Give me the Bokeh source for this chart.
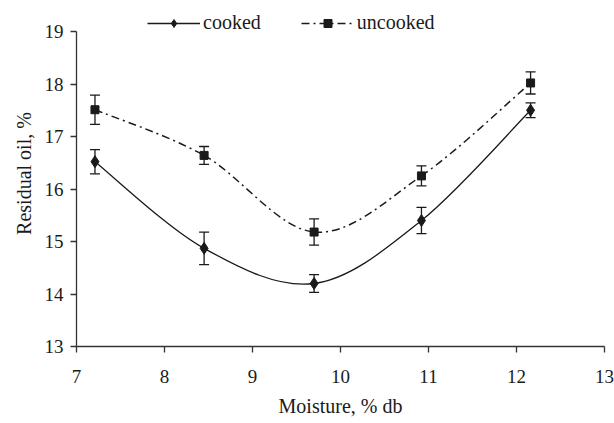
import numpy as np
from bokeh.plotting import figure
from bokeh.models import (ColumnDataSource, Whisker, TeeHead, Range1d, Legend,
                          LegendItem, FixedTicker)
from bokeh.embed import file_html
from bokeh.resources import INLINE

# ---- data ----
moisture = [7.21, 8.45, 9.70, 10.92, 12.16]
cooked = [16.52, 14.87, 14.20, 15.40, 17.50]
cooked_err = [0.23, 0.31, 0.17, 0.25, 0.14]
uncooked = [17.51, 16.64, 15.18, 16.25, 18.02]
uncooked_err = [0.28, 0.17, 0.25, 0.19, 0.21]
x_ticks = [7, 8, 9, 10, 11, 12, 13]
y_ticks = [13, 14, 15, 16, 17, 18, 19]

FONT = "Times New Roman, Liberation Serif, Tinos, DejaVu Serif, serif"
INK = "#1a1a1a"

W, H = 614, 423
LEFT, RIGHT, BOTTOM = 76, 10, 77
TOP_GAP = 31  # pixels above the y=19 tick, used by the legend


def smooth(xs, ys):
    """Bezier control points for a Catmull-Rom style smoothed line."""
    xs = np.asarray(xs, float)
    ys = np.asarray(ys, float)
    n = len(xs)
    out = dict(x0=[], y0=[], x1=[], y1=[], cx0=[], cy0=[], cx1=[], cy1=[])
    for i in range(n - 1):
        a = i - 1 if i > 0 else i
        d = i + 2 if i + 2 < n else i + 1
        out["x0"].append(xs[i]); out["y0"].append(ys[i])
        out["x1"].append(xs[i + 1]); out["y1"].append(ys[i + 1])
        out["cx0"].append(xs[i] + (xs[i + 1] - xs[a]) / 6)
        out["cy0"].append(ys[i] + (ys[i + 1] - ys[a]) / 6)
        out["cx1"].append(xs[i + 1] - (xs[d] - xs[i]) / 6)
        out["cy1"].append(ys[i + 1] - (ys[d] - ys[i]) / 6)
    return ColumnDataSource(out)


frame_h = H - BOTTOM
axis_h = frame_h - TOP_GAP
y_lo, y_hi = y_ticks[0], y_ticks[-1]
y_top = y_hi + TOP_GAP * (y_hi - y_lo) / axis_h

p = figure(width=W, height=H, output_backend="svg", toolbar_location=None,
           x_range=Range1d(x_ticks[0], x_ticks[-1]), y_range=Range1d(y_lo, y_top),
           min_border_left=LEFT, min_border_right=RIGHT,
           min_border_top=0, min_border_bottom=BOTTOM)
p.outline_line_color = None
p.grid.visible = False
p.background_fill_color = "white"
p.border_fill_color = "white"

for ax in (p.xaxis[0], p.yaxis[0]):
    ax.axis_line_color = "#333333"
    ax.axis_line_width = 1.3
    ax.major_tick_line_color = "#333333"
    ax.major_tick_line_width = 1.3
    ax.major_tick_out = 6
    ax.major_tick_in = 0
    ax.minor_tick_line_color = None
    ax.major_label_text_font = FONT
    ax.major_label_text_font_size = "19px"
    ax.major_label_text_color = INK
    ax.axis_label_text_font = FONT
    ax.axis_label_text_font_size = "20px"
    ax.axis_label_text_font_style = "normal"
    ax.axis_label_text_color = INK

p.xaxis.ticker = FixedTicker(ticks=x_ticks)
p.yaxis.ticker = FixedTicker(ticks=y_ticks)
p.yaxis.bounds = (y_lo, y_hi)
p.xaxis.axis_label = "Moisture, % db"
p.yaxis.axis_label = "Residual oil, %"
p.xaxis.major_label_standoff = 17
p.xaxis.axis_label_standoff = 9
p.yaxis.major_label_standoff = 7
p.yaxis.axis_label_standoff = 7

# smoothed lines
src_c = smooth(moisture, cooked)
src_u = smooth(moisture, uncooked)
bc = p.bezier(x0="x0", y0="y0", x1="x1", y1="y1", cx0="cx0", cy0="cy0",
              cx1="cx1", cy1="cy1", source=src_c, line_color=INK, line_width=1.3)
bu = p.bezier(x0="x0", y0="y0", x1="x1", y1="y1", cx0="cx0", cy0="cy0",
              cx1="cx1", cy1="cy1", source=src_u, line_color=INK, line_width=1.5,
              line_dash="8 4 2 4")

# error bars
pts = ColumnDataSource(dict(
    x=moisture, c=cooked, u=uncooked,
    c_lo=[v - e for v, e in zip(cooked, cooked_err)],
    c_hi=[v + e for v, e in zip(cooked, cooked_err)],
    u_lo=[v - e for v, e in zip(uncooked, uncooked_err)],
    u_hi=[v + e for v, e in zip(uncooked, uncooked_err)],
))
for lo, hi in (("c_lo", "c_hi"), ("u_lo", "u_hi")):
    w = Whisker(base="x", lower=lo, upper=hi, source=pts,
                line_color=INK, line_width=1.3,
                lower_head=TeeHead(size=10, line_color=INK, line_width=1.3),
                upper_head=TeeHead(size=10, line_color=INK, line_width=1.3))
    p.add_layout(w)

# markers
sc = p.scatter("x", "c", source=pts, marker="diamond", size=12,
               fill_color=INK, line_color=INK)
su = p.scatter("x", "u", source=pts, marker="square", size=8,
               fill_color=INK, line_color=INK)

legend = Legend(items=[LegendItem(label="cooked", renderers=[bc, sc]),
                       LegendItem(label="uncooked", renderers=[bu, su])],
                orientation="horizontal", location=(71, frame_h - 34),
                label_text_font=FONT, label_text_font_size="20px",
                label_text_color=INK, glyph_width=53, glyph_height=20,
                label_height=20, label_standoff=3, spacing=40, padding=0,
                margin=0, border_line_color=None, background_fill_alpha=0)
p.add_layout(legend)

open("out.html", "w").write(file_html(p, INLINE))
